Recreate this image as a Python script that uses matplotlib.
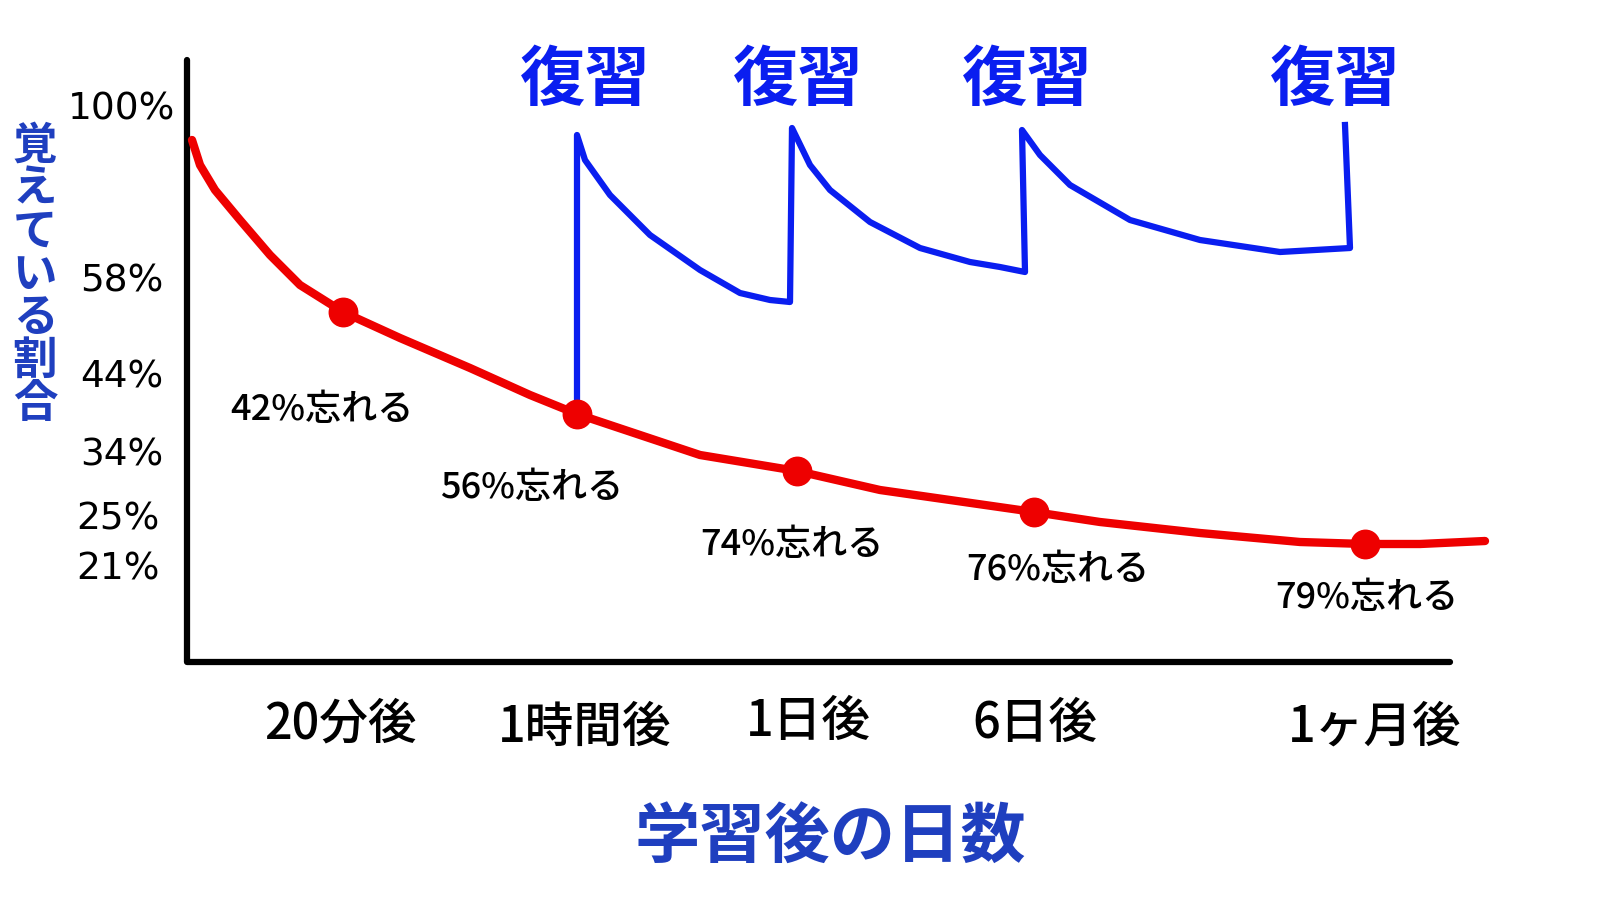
import matplotlib
matplotlib.use("Agg")
import matplotlib.pyplot as plt

plt.rcParams['font.family'] = ['Noto Sans CJK JP', 'DejaVu Sans']

# chart-space coordinates (hand-drawn layout, x: time position, y: height from top)
red_x = [192,200,215,240,270,300,343,400,470,530,577,640,700,797,880,950,1034,1100,1200,1300,1365,1420,1485]
red_y = [140,165,190,220,255,285,312,338,368,395,414,435,455,471,490,500,512,522,533,542,544,544,541]
dot_x = [343,577,797,1034,1365]
dot_y = [312,414,471,512,544]
blue_x = [577,577,585,610,650,700,740,770,790,792,810,830,870,920,970,1000,1025,1022,1040,1070,1130,1200,1280,1350,1345]
blue_y = [400,135,160,195,235,270,293,300,302,128,165,190,222,248,262,267,272,130,155,185,220,240,252,248,125]

ytick_labels = ["100%","58%","44%","34%","25%","21%"]
ytick_pos = [110,282,378,455,520,570]
ytick_x = [122,122,122,122,118,118]
forget_labels = ["42%忘れる","56%忘れる","74%忘れる","76%忘れる","79%忘れる"]
forget_x = [322,532,792,1058,1367]
forget_y = [410,488,545,570,598]
xcat_labels = ["20分後","1時間後","1日後","6日後","1ヶ月後"]
xcat_x = [340,585,808,1035,1375]
xcat_y = [725,728,722,724,728]
review_x = [585,798,1027,1335]

fig = plt.figure(figsize=(16,9.01), dpi=100)
ax = fig.add_axes([0,0,1,1])
ax.set_xlim(0,1600); ax.set_ylim(901,0); ax.axis('off')

ax.plot([187,187,1450],[60,662,662], color='black', lw=4.5, solid_capstyle='round', solid_joinstyle='round')

ax.plot(red_x, red_y, color='#ee0000', lw=6, solid_capstyle='round')
ax.scatter(dot_x, dot_y, s=420, color='#ee0000', zorder=3)
ax.plot(blue_x, blue_y, color='#0a1ef0', lw=4.5, solid_joinstyle='round')

for t, y, x in zip(ytick_labels, ytick_pos, ytick_x):
    ax.text(x, y, t, fontsize=27, ha='center', va='center', family=['DejaVu Sans'])
for t, x, y in zip(forget_labels, forget_x, forget_y):
    ax.text(x, y, t, fontsize=26, ha='center', va='center', fontweight='medium')
for t, x, y in zip(xcat_labels, xcat_x, xcat_y):
    ax.text(x, y, t, fontsize=35, ha='center', va='center', fontweight='medium')
for x in review_x:
    ax.text(x, 80, "復習", fontsize=47, ha='center', va='center', color='#0a1ef0', fontweight='bold')

ax.text(35, 275, "\n".join("覚えている割合"), fontsize=32, ha='center', va='center',
        color='#1f3fbf', fontweight='bold', linespacing=0.92)
ax.text(830, 838, "学習後の日数", fontsize=47, ha='center', va='center', color='#1f3fbf', fontweight='bold')

fig.savefig("out.png", dpi=100)
